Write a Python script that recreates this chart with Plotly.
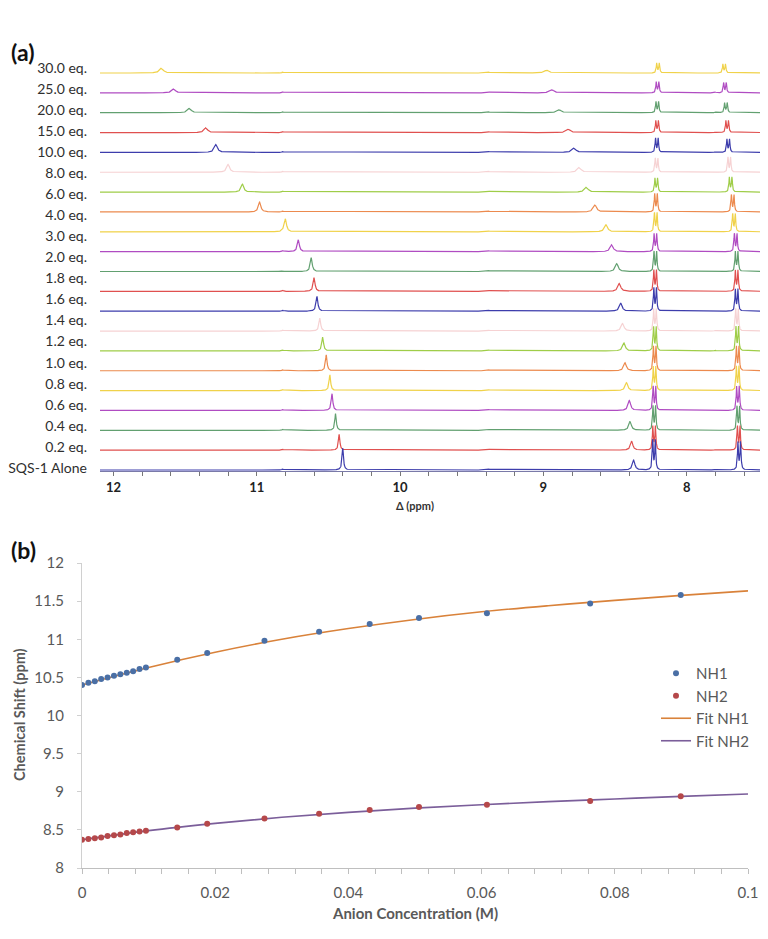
import numpy as np
import plotly.graph_objects as go

# The page body adds an 8px margin, so the figure is 8px smaller and all
# pixel-based layout positions are measured from the window origin.
PAGE_OFF = 8
W, H = 768 - PAGE_OFF, 939 - PAGE_OFF

# ---------------- Panel (a) data: stacked 1H NMR spectra (index 0 = bottom) ----------------
row_labels = ["SQS-1 Alone", "0.2 eq.", "0.4 eq.", "0.6 eq.", "0.8 eq.", "1.0 eq.", "1.2 eq.",
              "1.4 eq.", "1.6 eq.", "1.8 eq.", "2.0 eq.", "3.0 eq.", "4.0 eq.", "6.0 eq.",
              "8.0 eq.", "10.0 eq.", "15.0 eq.", "20.0 eq.", "25.0 eq.", "30.0 eq."]
label_offsets = [0.10, 1.16, 2.22, 3.28, 4.35, 5.41, 6.47, 7.53, 8.59, 9.65, 10.71, 11.78,
                 12.84, 13.90, 14.96, 16.02, 17.08, 18.14, 19.20, 20.25]

nh1_ppm = [10.40, 10.425, 10.45, 10.475, 10.49, 10.515, 10.54, 10.56, 10.58, 10.60, 10.62,
           10.71, 10.80, 10.98, 11.10, 11.20, 11.285, 11.355, 11.47, 11.58, 11.665]
nh1_int = [1.10, 0.80, 0.85, 0.85, 0.80, 0.80, 0.70, 0.65, 0.75, 0.70, 0.70,
           0.60, 0.65, 0.50, 0.40, 0.40, 0.40, 0.25, 0.22, 0.20, 0.25]
nh1_fwhm = [0.012, 0.012, 0.012, 0.013, 0.013, 0.013, 0.014, 0.014, 0.015, 0.015, 0.016,
            0.017, 0.018, 0.020, 0.022, 0.024, 0.026, 0.028, 0.030, 0.030, 0.032]

nh2_ppm = [8.37, 8.384, 8.395, 8.40, 8.42, 8.43, 8.4375, 8.447, 8.46, 8.47, 8.488,
           8.523, 8.563, 8.64, 8.70, 8.75, 8.786, 8.826, 8.89, 8.94, 8.977]
nh2_int = [0.50, 0.45, 0.45, 0.50, 0.40, 0.40, 0.40, 0.40, 0.40, 0.40, 0.40,
           0.35, 0.35, 0.35, 0.25, 0.25, 0.22, 0.17, 0.15, 0.15, 0.14]
nh2_fwhm = [0.020, 0.020, 0.021, 0.021, 0.022, 0.022, 0.022, 0.023, 0.023, 0.024, 0.024,
            0.025, 0.026, 0.028, 0.030, 0.030, 0.032, 0.034, 0.035, 0.036, 0.038]

ar1_ppm = [8.228, 8.227, 8.226, 8.225, 8.224, 8.223, 8.222, 8.221, 8.220, 8.220, 8.219,
           8.218, 8.216, 8.214, 8.212, 8.210, 8.208, 8.206, 8.205, 8.203, 8.200]
ar1_int = [1.50, 1.20, 1.20, 1.20, 1.20, 1.20, 1.20, 1.10, 1.15, 1.05, 1.00,
           0.90, 0.95, 0.90, 0.70, 0.70, 0.70, 0.60, 0.55, 0.55, 0.50]
ar2_ppm = [7.633, 7.637, 7.640, 7.642, 7.644, 7.644, 7.647, 7.649, 7.651, 7.651, 7.651,
           7.658, 7.670, 7.679, 7.693, 7.703, 7.710, 7.717, 7.726, 7.733, 7.738]
ar2_int = [1.40, 1.20, 1.20, 1.20, 1.20, 1.20, 1.20, 1.10, 1.10, 1.05, 1.00,
           0.90, 0.90, 0.85, 0.75, 0.75, 0.65, 0.60, 0.50, 0.50, 0.45]
doublet_split = 0.018
doublet_fwhm = 0.008

# small baseline artefacts seen in every trace
minor_ppm = [10.82, 10.12, 9.38, 8.07, 7.80]
minor_int = [0.05, 0.03, 0.04, 0.03, 0.03]

palette = ["#3d3dac", "#e0504f", "#62a070", "#b04cc2", "#f0d24a",
           "#ec8a4e", "#9fcd48", "#f6d2d3"]

# ---------------- Panel (b) data: titration isotherms ----------------
conc = [0.0, 0.00096, 0.00192, 0.00288, 0.00384, 0.0048, 0.00576, 0.00672, 0.00768, 0.00864,
        0.0096, 0.0143, 0.0188, 0.0274, 0.0356, 0.0432, 0.0506, 0.0608, 0.0763, 0.0899]
nh1_shift = [10.40, 10.43, 10.45, 10.48, 10.50, 10.52, 10.54, 10.56, 10.58, 10.61,
             10.63, 10.73, 10.82, 10.98, 11.10, 11.20, 11.28, 11.34, 11.47, 11.58]
nh2_shift = [8.37, 8.38, 8.39, 8.40, 8.42, 8.43, 8.44, 8.46, 8.47, 8.48,
             8.49, 8.53, 8.58, 8.65, 8.71, 8.76, 8.80, 8.83, 8.88, 8.94]
fit_conc = [0.0, 0.01, 0.02, 0.03, 0.04, 0.05, 0.06, 0.07, 0.08, 0.09, 0.10]
fit_nh1 = [10.40, 10.63, 10.83, 11.00, 11.14, 11.26, 11.36, 11.44, 11.51, 11.575, 11.635]
fit_nh2 = [8.37, 8.49, 8.585, 8.665, 8.73, 8.785, 8.83, 8.87, 8.905, 8.94, 8.97]


def px_x(p):
    return (p - PAGE_OFF) / W


def px_y(p):
    return 1 - (p - PAGE_OFF) / H


def lorentz(x, x0, h, fwhm):
    hw = fwhm / 2.0
    return h * hw * hw / ((x - x0) ** 2 + hw * hw)


fig = go.Figure()

ppm_grid = np.arange(7.47, 12.10, 0.0015)
n_rows = len(nh1_ppm)
for i in reversed(range(n_rows)):
    y = np.full_like(ppm_grid, float(i))
    y += lorentz(ppm_grid, nh1_ppm[i], nh1_int[i], nh1_fwhm[i])
    y += lorentz(ppm_grid, nh2_ppm[i], nh2_int[i], nh2_fwhm[i])
    for c, h in ((ar1_ppm[i], ar1_int[i]), (ar2_ppm[i], ar2_int[i])):
        y += lorentz(ppm_grid, c - doublet_split / 2, h, doublet_fwhm)
        y += lorentz(ppm_grid, c + doublet_split / 2, h, doublet_fwhm)
    for c, h in zip(minor_ppm, minor_int):
        y += lorentz(ppm_grid, c, h, 0.01)
    fig.add_trace(go.Scatter(x=ppm_grid, y=y, mode="lines",
                             line=dict(color=palette[i % len(palette)], width=1.2),
                             showlegend=False, hoverinfo="skip",
                             xaxis="x", yaxis="y"))

# Panel (b) traces: fits drawn first, legend order fixed by legendrank
fig.add_trace(go.Scatter(x=fit_conc, y=fit_nh1, mode="lines", name="Fit NH1",
                         line=dict(color="#d9823a", width=1.6, shape="spline"),
                         legendrank=3, legendgroup="g3", xaxis="x2", yaxis="y2"))
fig.add_trace(go.Scatter(x=fit_conc, y=fit_nh2, mode="lines", name="Fit NH2",
                         line=dict(color="#7b5e9a", width=1.6, shape="spline"),
                         legendrank=4, legendgroup="g4", xaxis="x2", yaxis="y2"))
fig.add_trace(go.Scatter(x=conc, y=nh1_shift, mode="markers", name="NH1",
                         marker=dict(color="#4a6fa5", size=6),
                         legendrank=1, legendgroup="g1", xaxis="x2", yaxis="y2"))
fig.add_trace(go.Scatter(x=conc, y=nh2_shift, mode="markers", name="NH2",
                         marker=dict(color="#b5484a", size=6),
                         legendrank=2, legendgroup="g2", xaxis="x2", yaxis="y2"))

FONT = "Lato"
GRAY = "#595959"

fig.update_layout(
    width=W, height=H,
    margin=dict(l=0, r=0, t=0, b=0),
    paper_bgcolor="white", plot_bgcolor="white",
    font=dict(family=FONT, color=GRAY),
    xaxis=dict(domain=[px_x(100), px_x(762)], range=[12.094, 7.4745],
               anchor="y", showgrid=False, zeroline=False, automargin=False,
               showline=True, linecolor="#7a7aa8", linewidth=1,
               tickvals=[12, 11, 10, 9, 8], ticktext=["12", "11", "10", "9", "8"],
               ticks="outside", ticklen=4, tickcolor="#777",
               minor=dict(dtick=0.2, tick0=8, ticks="outside", ticklen=4, tickcolor="#777"),
               tickfont=dict(family=FONT, size=13, color="#222", weight="bold")),
    yaxis=dict(domain=[px_y(471), px_y(50)], range=[-0.05, 21.16],
               anchor="x", showgrid=False, zeroline=False, showline=False, automargin=False,
               tickvals=label_offsets, ticktext=row_labels, ticks="",
               ticklabelstandoff=12,
               tickfont=dict(family=FONT, size=14, color="#2f2f2f")),
    xaxis2=dict(domain=[px_x(82), px_x(748)], range=[0, 0.1], anchor="y2",
                showgrid=False, zeroline=False, showline=True, linecolor="#bfbfbf",
                linewidth=1, tickvals=[0, 0.02, 0.04, 0.06, 0.08, 0.1], automargin=False,
                ticktext=["0", "0.02", "0.04", "0.06", "0.08", "0.1"],
                ticks="outside", ticklen=5, tickcolor="#bfbfbf",
                minor=dict(dtick=0.004, tick0=0, ticks="outside", ticklen=5, tickcolor="#bfbfbf"),
                ticklabelstandoff=6,
                tickfont=dict(family=FONT, size=15, color=GRAY)),
    yaxis2=dict(domain=[px_y(868), px_y(563)], range=[8, 12], anchor="x2",
                showgrid=False, zeroline=False, showline=True, linecolor="#d0d0d0",
                linewidth=1, dtick=0.5, tick0=8, automargin=False,
                ticks="outside", ticklen=4, tickcolor="#d0d0d0",
                ticklabelstandoff=10,
                tickfont=dict(family=FONT, size=15, color=GRAY)),
    legend=dict(x=px_x(656), y=px_y(657), xanchor="left", yanchor="top",
                font=dict(family=FONT, size=15, color=GRAY), tracegroupgap=6,
                bgcolor="rgba(0,0,0,0)", itemwidth=30, traceorder="normal"),
    annotations=[
        dict(text="<b>(a)</b>", x=px_x(9), y=px_y(52), xref="paper", yref="paper",
             xanchor="left", yanchor="middle", showarrow=False,
             font=dict(family=FONT, size=23, color="#111")),
        dict(text="<b>(b)</b>", x=px_x(9), y=px_y(550), xref="paper", yref="paper",
             xanchor="left", yanchor="middle", showarrow=False,
             font=dict(family=FONT, size=23, color="#111")),
        dict(text="Δ (ppm)", x=px_x(415), y=px_y(505), xref="paper", yref="paper",
             xanchor="center", yanchor="middle", showarrow=False,
             font=dict(family=FONT, size=11, color="#333", weight="bold")),
        dict(text="<b>Anion Concentration (M)</b>", x=px_x(415), y=px_y(913),
             xref="paper", yref="paper", xanchor="center", yanchor="middle",
             showarrow=False, font=dict(family=FONT, size=15, color=GRAY)),
        dict(text="<b>Chemical Shift (ppm)</b>", x=px_x(19), y=px_y(715),
             xref="paper", yref="paper", xanchor="center", yanchor="middle",
             textangle=-90, showarrow=False, font=dict(family=FONT, size=14.5, color=GRAY)),
    ],
)

fig.write_html("out.html")
